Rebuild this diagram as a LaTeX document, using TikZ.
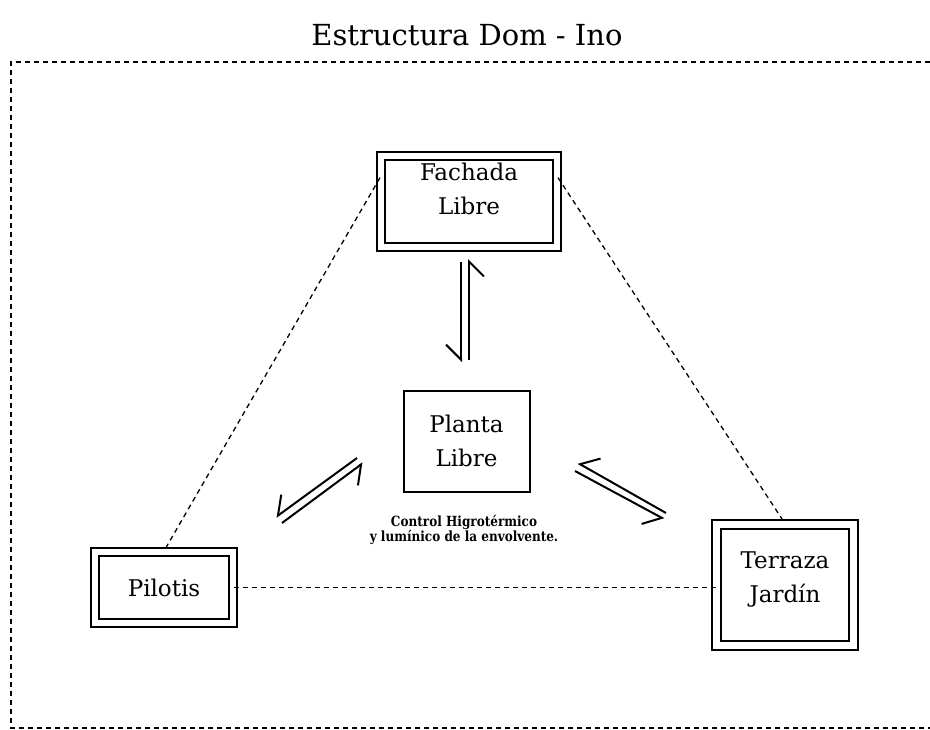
\documentclass[tikz,border=0pt]{standalone}
\usepackage{fontspec}
\setmainfont{DejaVu Serif}
\newfontfamily\notafont[FakeStretch=0.86]{DejaVu Serif}
\usepackage{tikz}
\usetikzlibrary{arrows.meta}

\tikzset{
	caja/.style={draw, line width=2pt, double, double distance=6.5pt, align=center,
		font=\fontsize{23}{34}\selectfont, inner sep=0pt},
	cajasimple/.style={draw, line width=2pt, align=center,
		font=\fontsize{23}{34}\selectfont, inner sep=0pt},
	enlace/.style={line width=1.3pt, dash pattern=on 5pt off 4pt},
	arpon/.style={line width=2pt, -{Straight Barb[harpoon, swap, length=15pt, width=30pt]}}
}

\begin{document}
\begin{tikzpicture}[x=1pt, y=-1pt]
		
		% Marco de la pagina
		\useasboundingbox (0,0) rectangle (930,729);
		
		% Titulo
		\node (titulo) at (467,35) {\fontsize{29}{34}\selectfont Estructura Dom - Ino};
		
		% Recuadro punteado (abierto a la derecha)
		\draw[enlace] (930,62) -- (11,62) -- (11,728) -- (930,728);
		
		% Cajas de los cuatro puntos
		\node[caja, minimum width=176pt, minimum height=91pt, text depth=26pt] (fachada) at (469,201.5) {Fachada\\Libre};
		\node[cajasimple, minimum width=126pt, minimum height=101pt] (planta) at (466.5,441) {Planta\\Libre};
		\node[caja, minimum width=138pt, minimum height=71pt] (pilotis) at (164,587.5) {Pilotis};
		\node[caja, minimum width=137pt, minimum height=121pt, text depth=16pt] (terraza) at (785,585) {Terraza\\Jard\'in};
		
		% Nota bajo la planta libre
		\node[font=\notafont\bfseries\fontsize{14}{15.5}\selectfont, align=center] (nota) at (464,530)
			{Control Higrot\'ermico\\y lum\'inico de la envolvente.};
		
		% Lineas punteadas entre las cajas exteriores
		\draw[enlace] (fachada.165) -- (pilotis.north);
		\draw[enlace] (fachada.15) -- (terraza.north);
		\draw[enlace] (pilotis.east) -- (pilotis.east -| terraza.west);
		
		% Extremos de los arpones
		\coordinate (fp1) at (461,262);
		\coordinate (fp2) at (461,362);
		\coordinate (fp3) at (469,360);
		\coordinate (fp4) at (469,259);
		\coordinate (pp1) at (357,458);
		\coordinate (pp2) at (276,517);
		\coordinate (pp3) at (282,523);
		\coordinate (pp4) at (363,463);
		\coordinate (pt1) at (666,513);
		\coordinate (pt2) at (578,463);
		\coordinate (pt3) at (575,471);
		\coordinate (pt4) at (664,519);
		
		% Arpones de ida y vuelta
		\draw[arpon] (fp1) -- (fp2);
		\draw[arpon] (fp3) -- (fp4);
		\draw[arpon] (pp1) -- (pp2);
		\draw[arpon] (pp3) -- (pp4);
		\draw[arpon] (pt1) -- (pt2);
		\draw[arpon] (pt3) -- (pt4);
		
	\end{tikzpicture}
\end{document}
